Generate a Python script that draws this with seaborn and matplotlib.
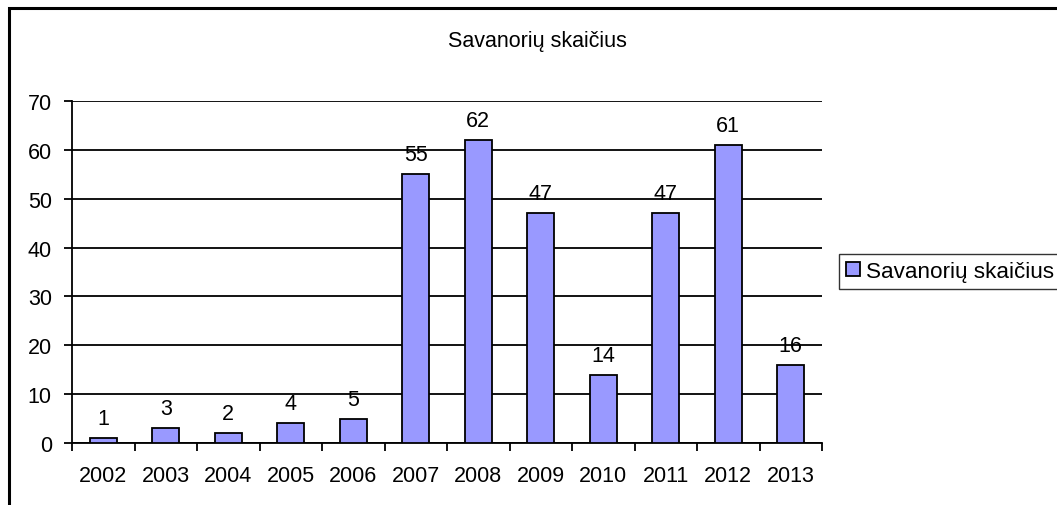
import numpy as np
import pandas as pd
import seaborn as sns
import matplotlib.pyplot as plt
from matplotlib.patches import Rectangle

years = ['2002', '2003', '2004', '2005', '2006', '2007',
         '2008', '2009', '2010', '2011', '2012', '2013']
volunteers = [1, 3, 2, 4, 5, 55, 62, 47, 14, 47, 61, 16]
title = 'Savanorių skaičius'

df = pd.DataFrame({'year': years, 'count': volunteers})

sns.set_theme(style='white')
plt.rcParams['font.family'] = ['Liberation Sans', 'DejaVu Sans']
plt.rcParams['text.color'] = 'black'
plt.rcParams['xtick.color'] = 'black'
plt.rcParams['ytick.color'] = 'black'

W, H = 1057, 506
fig = plt.figure(figsize=(W / 100, H / 100), dpi=100)
ax = fig.add_axes([72 / W, 1 - 444 / H, (822 - 72) / W, (444 - 102) / H])

sns.barplot(data=df, x='year', y='count', color='#9999FF', saturation=1,
            width=0.43, edgecolor='black', linewidth=1.3, ax=ax,
            label=title, zorder=3)
handles, labels = ax.get_legend_handles_labels()
if ax.get_legend() is not None:
    ax.get_legend().remove()

ax.set_xlim(-0.5, len(years) - 0.5)
ax.set_ylim(0, 70)
ax.set_yticks(range(0, 71, 10))
ax.yaxis.grid(True, color='black', linewidth=1.3, zorder=0)
ax.set_axisbelow(True)
for s in ['top', 'right']:
    ax.spines[s].set_visible(False)
for s in ['left', 'bottom']:
    ax.spines[s].set_color('black')
    ax.spines[s].set_linewidth(1.3)
ax.set_xlabel('')
ax.set_ylabel('')

fs = 15.5
ax.set_xticks(np.arange(len(years)))
ax.set_xticklabels(years, fontsize=fs)
ax.set_xticks(np.arange(-0.5, len(years)), minor=True)
ax.tick_params(axis='x', which='major', length=0, pad=16)
ax.tick_params(axis='x', which='minor', length=6, width=1.3,
               color='black', direction='out', bottom=True)
ax.tick_params(axis='y', length=6, width=1.3, color='black',
               direction='out', left=True, labelsize=fs, pad=8.5)

for i, v in enumerate(volunteers):
    ax.annotate(str(v), (i, v), xytext=(0, 14), textcoords='offset pixels',
                ha='center', va='baseline', fontsize=fs)

fig.text(537 / W, 1 - 47 / H, title, ha='center', va='baseline', fontsize=fs)

# chart frame, cut off at right and bottom
fig.patches.append(Rectangle((9 / W, -0.1), 1.2, 1 - 9 / H + 0.1,
                             transform=fig.transFigure, fill=False,
                             edgecolor='black', linewidth=2.2))

leg = fig.legend(handles, labels, loc='upper left',
                 bbox_to_anchor=(839 / W, 1 - 255 / H),
                 fontsize=16.2, frameon=True, fancybox=False,
                 edgecolor='black', handlelength=0.62, handleheight=0.62,
                 handletextpad=0.3, borderpad=0.3, borderaxespad=0)
leg.get_frame().set_linewidth(1)

fig.savefig('out.png', dpi=100)
